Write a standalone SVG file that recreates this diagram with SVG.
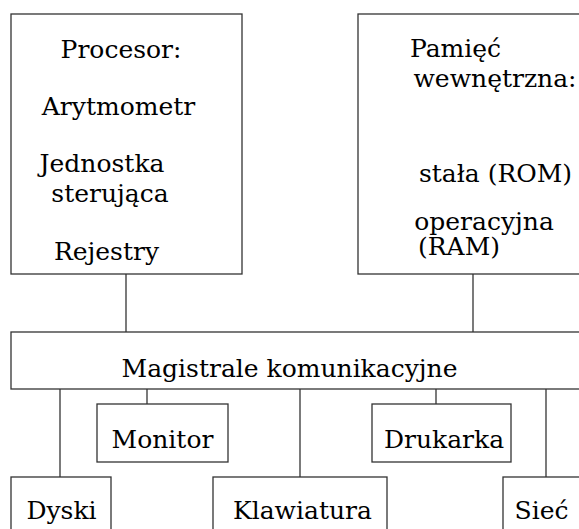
<svg xmlns="http://www.w3.org/2000/svg" width="579" height="529" viewBox="0 0 579 529">
<style>
.box{fill:#fff;stroke:#333;stroke-width:1.3}
.ln{stroke:#333;stroke-width:1.3;fill:none}
</style>
<rect width="579" height="529" fill="#fff"/>
<g id="connectors">
<line class="ln" x1="126" y1="274" x2="126" y2="332"/>
<line class="ln" x1="473" y1="274" x2="473" y2="332"/>
<line class="ln" x1="60" y1="389" x2="60" y2="477"/>
<line class="ln" x1="147" y1="389" x2="147" y2="404"/>
<line class="ln" x1="300" y1="389" x2="300" y2="477"/>
<line class="ln" x1="436" y1="389" x2="436" y2="404"/>
<line class="ln" x1="546" y1="389" x2="546" y2="477"/>
</g>
<g font-family="'DejaVu Serif', 'Liberation Serif', serif" font-size="25" text-anchor="middle" fill="#000">
<g id="procesor">
<rect class="box" x="11" y="14" width="231" height="260"/>
<text x="121" y="58">Procesor:</text>
<text x="118.5" y="115">Arytmometr</text>
<text x="102" y="172">Jednostka</text>
<text x="110" y="202">sterująca</text>
<text x="106.5" y="260">Rejestry</text>
</g>
<g id="pamiec">
<rect class="box" x="358" y="14" width="240" height="260"/>
<text x="455.5" y="57">Pamięć</text>
<text x="495" y="87">wewnętrzna:</text>
<text x="495.5" y="182">stała (ROM)</text>
<text x="484" y="230">operacyjna</text>
<text x="459" y="255">(RAM)</text>
</g>
<g id="magistrale">
<rect class="box" x="11" y="332" width="590" height="57"/>
<text x="289.5" y="377">Magistrale komunikacyjne</text>
</g>
<g id="monitor">
<rect class="box" x="97" y="404" width="131" height="58"/>
<text x="162.5" y="448">Monitor</text>
</g>
<g id="drukarka">
<rect class="box" x="372" y="404" width="139" height="58"/>
<text x="444" y="448">Drukarka</text>
</g>
<g id="dyski">
<rect class="box" x="11" y="477" width="100" height="70"/>
<text x="61.5" y="519">Dyski</text>
</g>
<g id="klawiatura">
<rect class="box" x="213" y="477" width="174" height="70"/>
<text x="302.5" y="519">Klawiatura</text>
</g>
<g id="siec">
<rect class="box" x="503" y="477" width="100" height="70"/>
<text x="541.5" y="519">Sieć</text>
</g>
</g>
</svg>
